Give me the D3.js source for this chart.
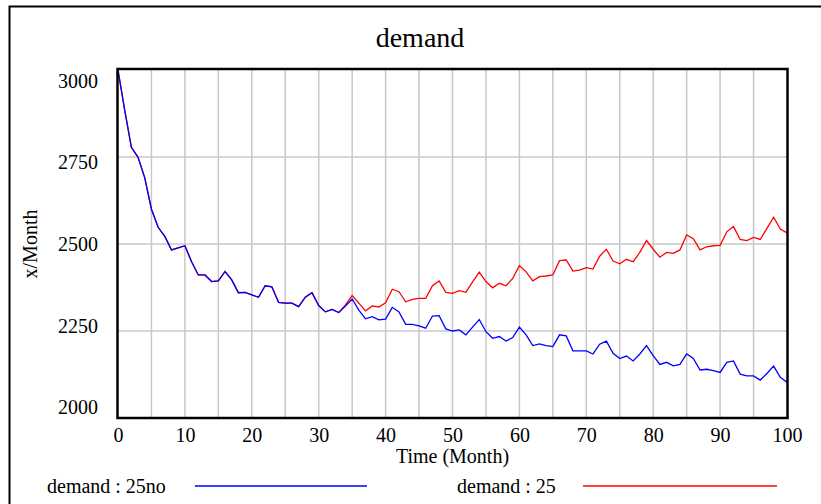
<!DOCTYPE html>
<html>
<head>
<meta charset="utf-8">
<script src="https://cdn.jsdelivr.net/npm/d3@7"></script>
<style>
  body { margin: 0; background: #fff; }
  svg { display: block; }
  text { font-family: "Liberation Serif", "Times New Roman", serif; fill: #000; }
</style>
</head>
<body>
<div id="chart"></div>
<script>
// time axis (months) and the two runs, one value per month
const months = d3.range(0, 101);
const xTicks = [0, 10, 20, 30, 40, 50, 60, 70, 80, 90, 100];
const yTicks = [2000, 2250, 2500, 2750, 3000];

const demand25no = [
  3000, 2885, 2778, 2749, 2690, 2600, 2548, 2522, 2483, 2489,
  2495, 2449, 2411, 2411, 2392, 2394, 2421, 2397, 2360, 2361,
  2354, 2347, 2380, 2377, 2332, 2330, 2330, 2320, 2347, 2360,
  2323, 2305, 2312, 2303, 2322, 2342, 2310, 2285, 2291, 2282,
  2284, 2318, 2305, 2269, 2269, 2265, 2258, 2293, 2294, 2256,
  2250, 2253, 2239, 2261, 2283, 2248, 2229, 2234, 2221, 2231,
  2261, 2239, 2208, 2213, 2208, 2205, 2239, 2236, 2193, 2193,
  2193, 2184, 2212, 2221, 2186, 2171, 2178, 2164, 2184, 2208,
  2179, 2154, 2160, 2150, 2154, 2184, 2171, 2138, 2140, 2136,
  2131, 2160, 2164, 2126, 2121, 2121, 2109, 2128, 2149, 2117,
  2103
];

const demand25 = [
  3000, 2885, 2778, 2749, 2690, 2600, 2548, 2522, 2483, 2489,
  2495, 2449, 2411, 2411, 2392, 2394, 2421, 2397, 2360, 2361,
  2354, 2347, 2380, 2377, 2332, 2330, 2330, 2320, 2347, 2360,
  2323, 2305, 2312, 2303, 2325, 2352, 2330, 2308, 2322, 2319,
  2331, 2370, 2363, 2334, 2341, 2344, 2344, 2380, 2394, 2361,
  2358, 2366, 2361, 2391, 2419, 2392, 2374, 2387, 2380, 2401,
  2438, 2420, 2394, 2406, 2408, 2411, 2452, 2454, 2422, 2425,
  2432, 2428, 2465, 2485, 2451, 2443, 2456, 2449, 2476, 2510,
  2485, 2462, 2476, 2473, 2483, 2526, 2515, 2483, 2492, 2495,
  2496, 2535, 2550, 2513, 2510, 2519, 2513, 2545, 2577, 2543,
  2532
];

const W = 821, H = 504;
const plot = { left: 118, right: 787, top: 70, bottom: 418 };

const svg = d3.select("#chart")
  .append("svg")
  .attr("width", W)
  .attr("height", H);

// window frame (cut off at right/bottom)
svg.append("rect")
  .attr("x", 9.5).attr("y", 6.5)
  .attr("width", 900).attr("height", 600)
  .attr("fill", "none")
  .attr("stroke", "#000")
  .attr("stroke-width", 2);

const x = d3.scaleLinear().domain([0, 100]).range([plot.left, plot.right]);
const y = d3.scaleLinear().domain([2000, 3000]).range([plot.bottom, plot.top]);
// vensim spreads the value labels a bit inside the plot height
const yLabel = d3.scaleLinear().domain([2000, 3000]).range([407, 80.7]);

// grid
svg.append("g")
  .selectAll("line")
  .data(d3.range(5, 100, 5))
  .enter()
  .append("line")
  .attr("x1", d => x(d)).attr("x2", d => x(d))
  .attr("y1", plot.top).attr("y2", plot.bottom)
  .attr("stroke", "#c8c8c8")
  .attr("stroke-width", 1.5);

svg.append("g")
  .selectAll("line")
  .data([2250, 2500, 2750])
  .enter()
  .append("line")
  .attr("x1", plot.left).attr("x2", plot.right)
  .attr("y1", d => y(d)).attr("y2", d => y(d))
  .attr("stroke", "#c8c8c8")
  .attr("stroke-width", 1.5);

// lines
const line = data => d3.line()
  .x((d, i) => x(months[i]))
  .y(d => y(d))(data);

svg.append("path")
  .attr("d", line(demand25))
  .attr("fill", "none")
  .attr("stroke", "#ff0000")
  .attr("stroke-width", 1.3);

svg.append("path")
  .attr("d", line(demand25no))
  .attr("fill", "none")
  .attr("stroke", "#0000ff")
  .attr("stroke-width", 1.3);

// plot border
svg.append("rect")
  .attr("x", plot.left - 0.5).attr("y", plot.top - 1)
  .attr("width", plot.right - plot.left + 1)
  .attr("height", plot.bottom - plot.top + 1)
  .attr("fill", "none")
  .attr("stroke", "#000")
  .attr("stroke-width", 2.5);

// axes
const xAxis = svg.append("g")
  .attr("transform", `translate(0,${plot.bottom})`)
  .call(d3.axisBottom(x).tickValues(xTicks).tickSize(0).tickPadding(0));
xAxis.select(".domain").remove();
xAxis.selectAll("text")
  .attr("y", 23.7)
  .attr("dy", null)
  .style("font-size", "20px")
  .style("font-family", "'Liberation Serif', serif");

const yAxis = svg.append("g")
  .attr("transform", "translate(98,0)")
  .call(d3.axisLeft(yLabel).tickValues(yTicks).tickSize(0).tickPadding(0).tickFormat(d3.format("d")));
yAxis.select(".domain").remove();
yAxis.selectAll("text")
  .attr("dy", "0.33em")
  .style("font-size", "20px")
  .style("font-family", "'Liberation Serif', serif");

// title and axis titles
svg.append("text")
  .attr("x", 420).attr("y", 47)
  .attr("text-anchor", "middle")
  .style("font-size", "28px")
  .text("demand");

svg.append("text")
  .attr("x", (plot.left + plot.right) / 2).attr("y", 463)
  .attr("text-anchor", "middle")
  .style("font-size", "20px")
  .text("Time (Month)");

svg.append("text")
  .attr("transform", `translate(36.5,${(plot.top + plot.bottom) / 2}) rotate(-90)`)
  .attr("text-anchor", "middle")
  .style("font-size", "20px")
  .text("x/Month");

// legend
const legend = [
  { name: "demand : 25no", color: "#0000ff", tx: 47, x1: 195, x2: 367 },
  { name: "demand : 25", color: "#ff0000", tx: 457, x1: 583, x2: 777 }
];
legend.forEach(d => {
  svg.append("text")
    .attr("x", d.tx).attr("y", 493)
    .style("font-size", "20px")
    .text(d.name);
  svg.append("line")
    .attr("x1", d.x1).attr("x2", d.x2)
    .attr("y1", 486).attr("y2", 486)
    .attr("stroke", d.color)
    .attr("stroke-width", 1.3);
});
</script>
</body>
</html>
